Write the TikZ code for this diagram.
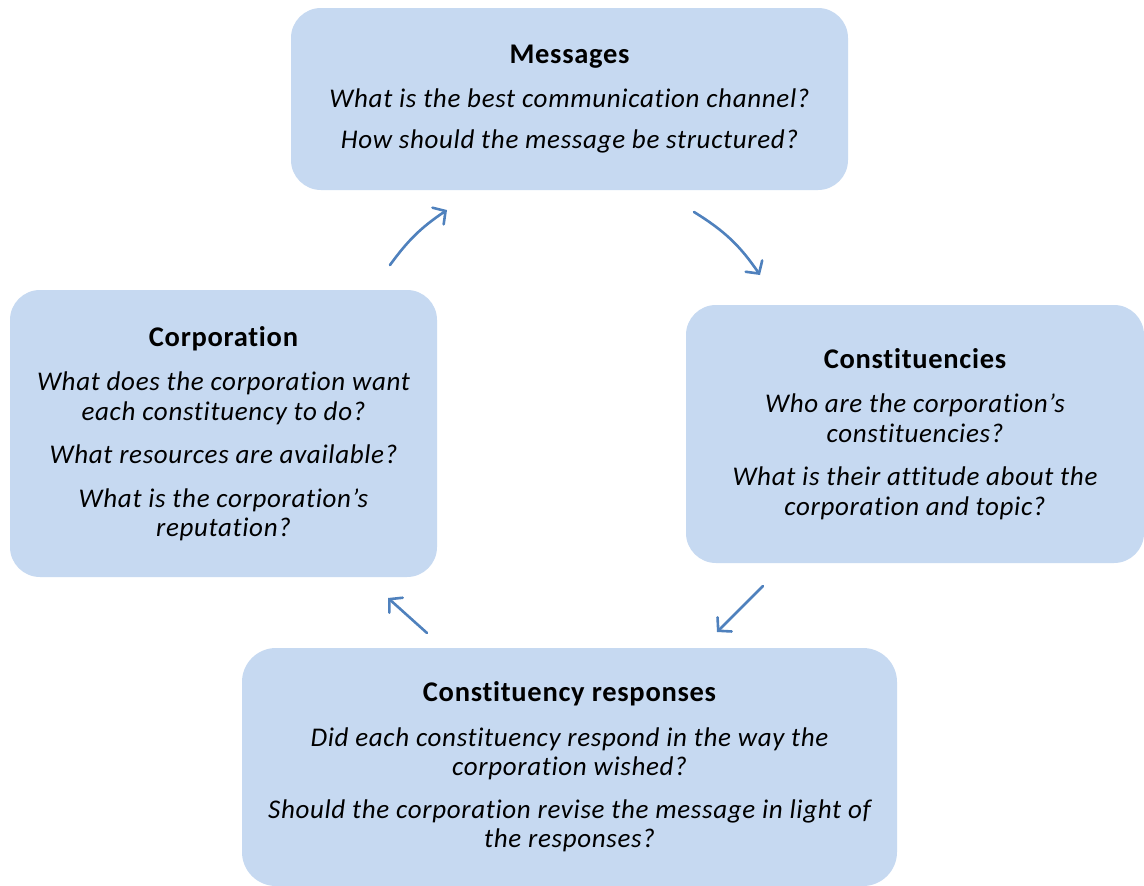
\documentclass[tikz,border=0pt]{standalone}
\usepackage{fontspec}
\setmainfont{Carlito}[LetterSpace=2.5, Ligatures=NoCommon]
\usetikzlibrary{arrows.meta}
\definecolor{boxfill}{HTML}{C6D9F1}
\definecolor{arrowblue}{HTML}{4F81BD}
\newcommand{\stagetitle}[1]{{\fontsize{28.5}{29.5}\selectfont\bfseries\upshape #1}}
\begin{document}
\begin{tikzpicture}[x=1pt,y=-1pt,
  stage/.style={fill=boxfill, draw=none, rounded corners=30pt, align=center,
    font=\fontsize{27}{29.5}\selectfont\itshape, inner sep=0pt},
  flow/.style={draw=arrowblue, line width=2.6pt, line cap=round,
    -{Straight Barb[length=9pt,width=20pt,line cap=round]}}]
\useasboundingbox[fill=white] (0,0) rectangle (1144,886);

% four stages of the communication cycle
\node[stage, minimum width=557pt, minimum height=182pt] (msg) at (569.5,99)
  {\stagetitle{Messages}\\[15pt]
   What is the best communication channel?\\[11pt]
   How should the message be structured?};
\node[stage, minimum width=458pt, minimum height=258pt] (cons) at (915,434)
  {\stagetitle{Constituencies}\\[15pt]
   Who are the corporation’s\\ constituencies?\\[14pt]
   What is their attitude about the\\ corporation and topic?};
\node[stage, minimum width=655pt, minimum height=238pt, rounded corners=34pt] (resp) at (569.5,767)
  {\stagetitle{Constituency responses}\\[15pt]
   Did each constituency respond in the way the\\ corporation wished?\\[13pt]
   Should the corporation revise the message in light of\\ the responses?};
\node[stage, minimum width=427pt, minimum height=287pt] (corp) at (223.5,433.5)
  {\stagetitle{Corporation}\\[15pt]
   What does the corporation want\\ each constituency to do?\\[14pt]
   What resources are available?\\[14pt]
   What is the corporation’s\\ reputation?};

% arrow end points between the stages
\coordinate (a1s) at (390,265); \coordinate (a1e) at (447,210);
\coordinate (a2s) at (694,212); \coordinate (a2e) at (760,275);
\coordinate (a3s) at (763,586); \coordinate (a3e) at (717,632);
\coordinate (a4s) at (427,633); \coordinate (a4e) at (388,598);

\draw[flow] (a1s) to[bend left=10] (a1e);
\draw[flow] (a2s) to[bend left=12] (a2e);
\draw[flow] (a3s) -- (a3e);
\draw[flow] (a4s) -- (a4e);
\end{tikzpicture}
\end{document}
